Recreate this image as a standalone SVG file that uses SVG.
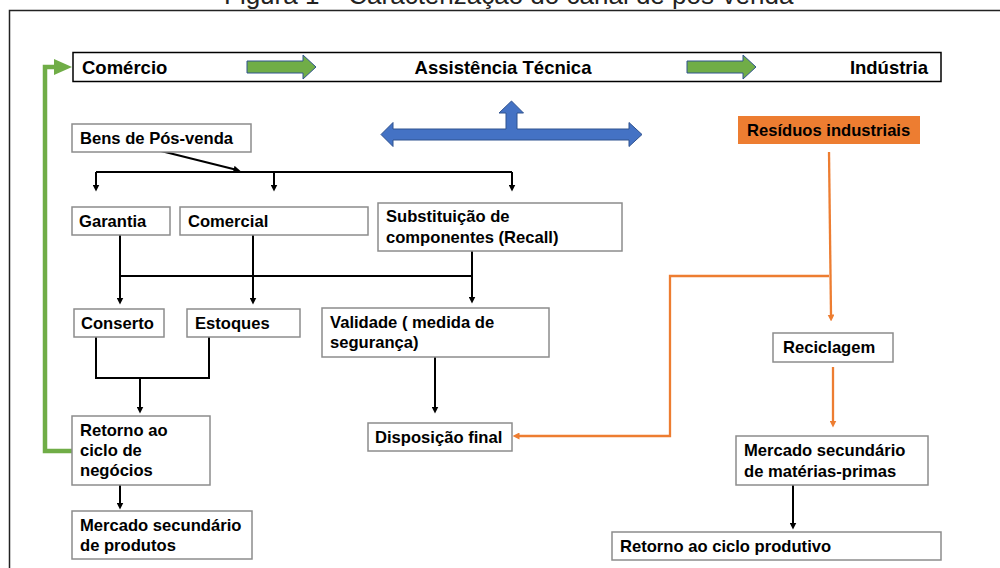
<svg xmlns="http://www.w3.org/2000/svg" width="1000" height="568" viewBox="0 0 1000 568">
  <defs>
    <style>
      .lbl { font-family: "Liberation Sans", Arial, sans-serif; font-weight: bold; font-size: 16.6px; fill: #000; }
      .bar-lbl { font-family: "Liberation Sans", Arial, sans-serif; font-weight: bold; font-size: 18.5px; fill: #000; }
      .title { font-family: "Liberation Sans", Arial, sans-serif; font-size: 26px; fill: #222; }
      .box { fill: #fff; stroke: #8c8c8c; stroke-width: 1.5; }
      .wire { fill: none; stroke: #000; stroke-width: 2; }
      .wire-o { fill: none; stroke: #ED7D31; stroke-width: 2.3; }
      .block-green { fill: #70AD47; stroke: #2F528F; stroke-width: 1; }
      .block-blue { fill: #4472C4; stroke: #2F528F; stroke-width: 1; }
    </style>
    <marker id="ah" viewBox="0 -3.5 7 7" refX="0.5" refY="0" markerWidth="7" markerHeight="7" markerUnits="userSpaceOnUse" orient="auto">
      <path d="M0,-3.5 L7,0 L0,3.5 Z" fill="#000"/>
    </marker>
    <marker id="ah-o" viewBox="0 -3.5 7 7" refX="0.5" refY="0" markerWidth="7" markerHeight="7" markerUnits="userSpaceOnUse" orient="auto">
      <path d="M0,-3.5 L7,0 L0,3.5 Z" fill="#ED7D31"/>
    </marker>
    <marker id="ah-g" viewBox="0 -8 18 16" refX="1" refY="0" markerWidth="18" markerHeight="16" markerUnits="userSpaceOnUse" orient="auto">
      <path d="M0,-8 L18,0 L0,8 Z" fill="#70AD47"/>
    </marker>
  </defs>

  <!-- caption and page frame -->
  <text class="title" x="224" y="4">Figura 1 – Caracterização do canal de pós-venda</text>
  <path d="M9.5,568 V10.5 H1000" fill="none" stroke="#222" stroke-width="1.5"/>

  <!-- channel bar -->
  <g id="channel-bar">
    <rect x="73" y="52.5" width="868" height="29" fill="#fff" stroke="#000" stroke-width="1.5"/>
    <text class="bar-lbl" x="82" y="73.5">Comércio</text>
    <text class="bar-lbl" x="503" y="73.5" text-anchor="middle">Assistência Técnica</text>
    <text class="bar-lbl" x="928" y="73.5" text-anchor="end">Indústria</text>
    <path class="block-green" d="M247,61 H303 V55 L316,67 L303,79 V73 H247 Z"/>
    <path class="block-green" d="M687,61 H743 V55 L756,67 L743,79 V73 H687 Z"/>
  </g>

  <!-- three-way flow arrow -->
  <g id="flow-arrow">
    <path class="block-blue" d="M381,134.5 L393,122.5 V129 H506 V113 H499 L511.5,101 L523.5,113 H517 V129 H629 V122.5 L642,134.5 L629,146.5 V140 H393 V146.5 Z"/>
  </g>

  <!-- connectors -->
  <g id="connectors">
    <path class="wire" d="M161,151 L234.2,169.3" marker-end="url(#ah)"/>
    <path class="wire" d="M96,172 H512"/>
    <path class="wire" d="M96,172 V185" marker-end="url(#ah)"/>
    <path class="wire" d="M274,172 V185" marker-end="url(#ah)"/>
    <path class="wire" d="M512,172 V185" marker-end="url(#ah)"/>

    <path class="wire" d="M120,235 V298" marker-end="url(#ah)"/>
    <path class="wire" d="M253,235 V298" marker-end="url(#ah)"/>
    <path class="wire" d="M120,276 H472"/>
    <path class="wire" d="M472,251 V297" marker-end="url(#ah)"/>

    <path class="wire" d="M96,337 V378 H209 V337"/>
    <path class="wire" d="M140,378 V407" marker-end="url(#ah)"/>
    <path class="wire" d="M120,485 V503" marker-end="url(#ah)"/>
    <path class="wire" d="M435,357 V407" marker-end="url(#ah)"/>
    <path class="wire" d="M793,485 V523" marker-end="url(#ah)"/>

    <path class="wire-o" d="M829,152 L831,315" marker-end="url(#ah-o)"/>
    <path class="wire-o" d="M829,276 H670 V436 H519" marker-end="url(#ah-o)"/>
    <path class="wire-o" d="M833,367 V421" marker-end="url(#ah-o)"/>

    <path d="M72,451 H45 V67 H55" fill="none" stroke="#70AD47" stroke-width="4.5" marker-end="url(#ah-g)"/>
  </g>

  <!-- nodes -->
  <g id="bens-pos-venda">
    <rect class="box" x="72" y="124" width="179" height="28"/>
    <text class="lbl" x="80" y="144">Bens de Pós-venda</text>
  </g>
  <g id="garantia">
    <rect class="box" x="72" y="207" width="98" height="28"/>
    <text class="lbl" x="79" y="227">Garantia</text>
  </g>
  <g id="comercial">
    <rect class="box" x="180" y="207" width="188" height="28"/>
    <text class="lbl" x="188" y="227">Comercial</text>
  </g>
  <g id="substituicao">
    <rect class="box" x="378" y="203" width="244" height="48"/>
    <text class="lbl" x="386" y="222">Substituição de</text>
    <text class="lbl" x="386" y="243">componentes (Recall)</text>
  </g>
  <g id="conserto">
    <rect class="box" x="74" y="309" width="90" height="28"/>
    <text class="lbl" x="81" y="329">Conserto</text>
  </g>
  <g id="estoques">
    <rect class="box" x="187" y="309" width="113" height="28"/>
    <text class="lbl" x="195" y="329">Estoques</text>
  </g>
  <g id="validade">
    <rect class="box" x="322" y="308" width="227" height="49"/>
    <text class="lbl" x="330" y="328">Validade ( medida de</text>
    <text class="lbl" x="330" y="348">segurança)</text>
  </g>
  <g id="retorno-negocios">
    <rect class="box" x="72" y="416" width="138" height="69"/>
    <text class="lbl" x="80" y="436">Retorno ao</text>
    <text class="lbl" x="80" y="456">ciclo de</text>
    <text class="lbl" x="80" y="476">negócios</text>
  </g>
  <g id="mercado-produtos">
    <rect class="box" x="72" y="511" width="180" height="48"/>
    <text class="lbl" x="80" y="531">Mercado secundário</text>
    <text class="lbl" x="80" y="551">de produtos</text>
  </g>
  <g id="disposicao-final">
    <rect class="box" x="368" y="423" width="144" height="28"/>
    <text class="lbl" x="375" y="443">Disposição final</text>
  </g>
  <g id="residuos-industriais">
    <rect x="738" y="116" width="182" height="28" fill="#ED7D31"/>
    <text class="lbl" x="747" y="136">Resíduos industriais</text>
  </g>
  <g id="reciclagem">
    <rect class="box" x="773" y="333" width="120" height="29"/>
    <text class="lbl" x="783" y="353">Reciclagem</text>
  </g>
  <g id="mercado-materias-primas">
    <rect class="box" x="736" y="436" width="192" height="49"/>
    <text class="lbl" x="744" y="456">Mercado secundário</text>
    <text class="lbl" x="744" y="477">de matérias-primas</text>
  </g>
  <g id="retorno-produtivo">
    <rect class="box" x="612" y="532" width="329" height="28"/>
    <text class="lbl" x="620" y="552">Retorno ao ciclo produtivo</text>
  </g>
</svg>
